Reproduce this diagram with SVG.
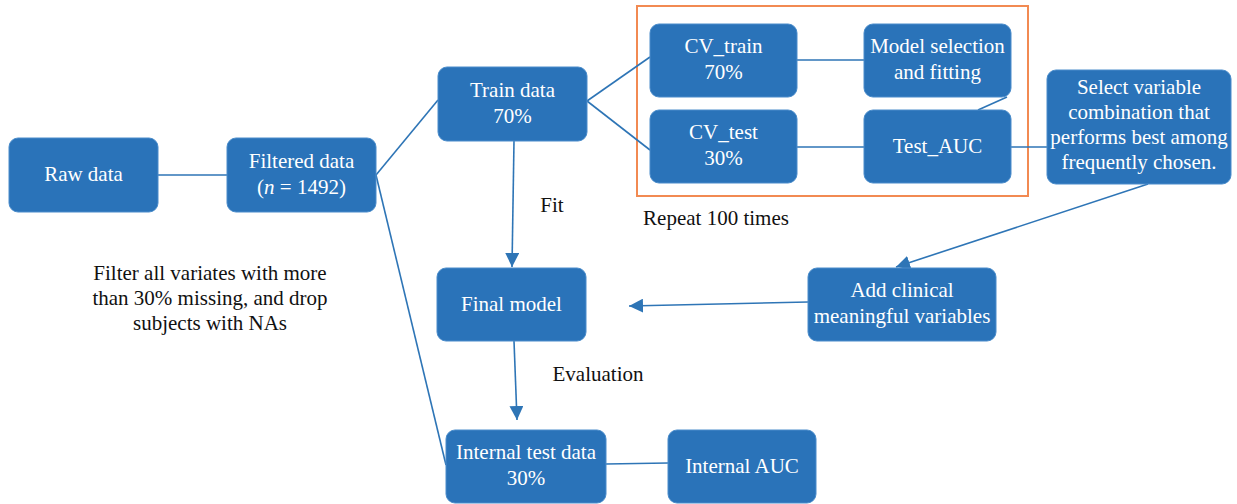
<svg xmlns="http://www.w3.org/2000/svg" width="1237" height="504" viewBox="0 0 1237 504">
<style>
.box{fill:#2a73b9;stroke:#4a8ccb;stroke-width:1}
.t{font-family:"Liberation Serif","DejaVu Serif",serif;font-size:21px;fill:#ffffff;text-anchor:middle}
.l{font-family:"Liberation Serif","DejaVu Serif",serif;font-size:21px;fill:#111111;text-anchor:middle}
.c{stroke:#2e75b6;stroke-width:1.6;fill:none}
</style>
<defs>
<marker id="ahL" viewBox="0 0 10 10" refX="10" refY="5" markerWidth="14" markerHeight="14" markerUnits="userSpaceOnUse" orient="auto">
<path d="M0,0 L10,5 L0,10 z" fill="#2e75b6"/>
</marker>
</defs>
<rect x="637" y="6" width="391" height="190" fill="none" stroke="#f28a52" stroke-width="2"/>
<g id="connectors">
<line class="c" x1="158" y1="175" x2="227" y2="175"/>
<line class="c" x1="376" y1="175" x2="438" y2="100"/>
<line class="c" x1="376" y1="175" x2="446" y2="465"/>
<line class="c" x1="587" y1="101" x2="650" y2="57"/>
<line class="c" x1="587" y1="101" x2="650" y2="150"/>
<line class="c" x1="797" y1="60" x2="864" y2="60"/>
<line class="c" x1="797" y1="147" x2="864" y2="147"/>
<line class="c" x1="1007" y1="97" x2="978" y2="110"/>
<line class="c" x1="1011" y1="147" x2="1047" y2="147"/>
<line class="c" x1="1148" y1="184" x2="896" y2="267" marker-end="url(#ahL)"/>
<line class="c" x1="808" y1="302" x2="629" y2="306" marker-end="url(#ahL)"/>
<line class="c" x1="514" y1="141" x2="512" y2="267" marker-end="url(#ahL)"/>
<line class="c" x1="514" y1="341" x2="517" y2="420" marker-end="url(#ahL)"/>
<line class="c" x1="606" y1="464" x2="668" y2="463"/>
</g>
<g id="raw"><rect class="box" x="9" y="138" width="149" height="74" rx="9"/><text class="t" x="83.5" y="181">Raw data</text></g>
<g id="filtered"><rect class="box" x="227" y="138" width="149" height="74" rx="9"/><text class="t" x="301.5" y="168">Filtered data</text><text class="t" x="301.5" y="194">(<tspan font-style="italic">n</tspan> = 1492)</text></g>
<g id="train"><rect class="box" x="438" y="67" width="149" height="74" rx="9"/><text class="t" x="512.5" y="97">Train data</text><text class="t" x="512.5" y="123">70%</text></g>
<g id="cvtrain"><rect class="box" x="650" y="24" width="147" height="73" rx="9"/><text class="t" x="723.5" y="53">CV_train</text><text class="t" x="723.5" y="79">70%</text></g>
<g id="model"><rect class="box" x="864" y="24" width="147" height="73" rx="9"/><text class="t" x="937.5" y="53">Model selection</text><text class="t" x="937.5" y="79">and fitting</text></g>
<g id="cvtest"><rect class="box" x="650" y="110" width="147" height="73" rx="9"/><text class="t" x="723.5" y="139">CV_test</text><text class="t" x="723.5" y="165">30%</text></g>
<g id="testauc"><rect class="box" x="864" y="110" width="147" height="73" rx="9"/><text class="t" x="937.5" y="153">Test_AUC</text></g>
<g id="select"><rect class="box" x="1047" y="70" width="184" height="114" rx="9"/><text class="t" x="1139" y="94">Select variable</text><text class="t" x="1139" y="119">combination that</text><text class="t" x="1139" y="144">performs best among</text><text class="t" x="1139" y="169">frequently chosen.</text></g>
<g id="final"><rect class="box" x="437" y="268" width="149" height="73" rx="9"/><text class="t" x="511.5" y="311">Final model</text></g>
<g id="clinical"><rect class="box" x="808" y="268" width="188" height="73" rx="9"/><text class="t" x="902" y="297">Add clinical</text><text class="t" x="902" y="323">meaningful variables</text></g>
<g id="internaltest"><rect class="box" x="446" y="430" width="160" height="73" rx="9"/><text class="t" x="526" y="459">Internal test data</text><text class="t" x="526" y="485">30%</text></g>
<g id="internalauc"><rect class="box" x="668" y="430" width="148" height="73" rx="9"/><text class="t" x="742" y="473">Internal AUC</text></g>
<g id="labels">
<text class="l" x="552" y="212">Fit</text>
<text class="l" x="716" y="225">Repeat 100 times</text>
<text class="l" x="598" y="381">Evaluation</text>
<text class="l" x="210" y="280">Filter all variates with more</text>
<text class="l" x="210" y="305">than 30% missing, and drop</text>
<text class="l" x="210" y="330">subjects with NAs</text>
</g>
</svg>
